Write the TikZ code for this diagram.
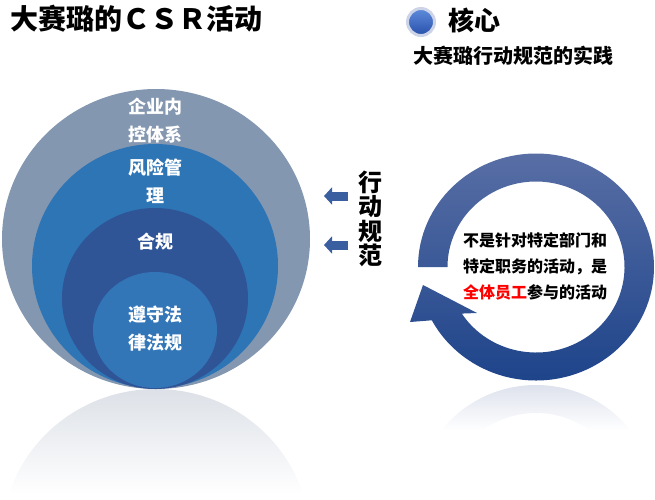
\documentclass[tikz,border=0pt]{standalone}
\usepackage{fontspec}
\setmainfont{Noto Sans CJK SC}
\usetikzlibrary{arrows.meta,calc}
\definecolor{outergrey}{RGB}{132,151,176}
\definecolor{riskblue}{RGB}{46,117,182}
\definecolor{compblue}{RGB}{47,85,151}
\definecolor{lawblue}{RGB}{50,118,184}
\definecolor{ringtop}{RGB}{88,110,165}
\definecolor{ringbot}{RGB}{30,68,138}
\definecolor{hintblue}{RGB}{58,95,160}
\definecolor{rimgrey}{RGB}{205,212,232}
\definecolor{dottop}{RGB}{95,140,220}
\definecolor{dotbot}{RGB}{40,80,170}
\definecolor{mirrorgrey}{RGB}{196,203,214}
\definecolor{mirrorblue}{RGB}{138,153,192}
\definecolor{keyred}{RGB}{255,0,0}
\pgfdeclareverticalshading{fadegrey}{100bp}{color(0bp)=(white); color(40bp)=(white); color(100bp)=(mirrorgrey)}
\pgfdeclareverticalshading{fadeblue}{100bp}{color(0bp)=(white); color(65bp)=(white); color(100bp)=(mirrorblue)}

\begin{document}
\begin{tikzpicture}[x=1pt, y=-1pt,
    title/.style={font=\bfseries\fontsize{28}{34}\selectfont, inner sep=0, anchor=west},
    sub/.style={font=\bfseries\fontsize{20}{24}\selectfont, inner sep=0, anchor=west},
    layer/.style={font=\bfseries\fontsize{18}{28}\selectfont, text=white, align=center, inner sep=0},
    note/.style={font=\bfseries\fontsize{16}{26}\selectfont, align=center, inner sep=0},
    dot/.style={circle, draw=rimgrey, line width=3, top color=dottop, bottom color=dotbot, minimum size=27, inner sep=0},
    hint/.style={-{Triangle[length=8pt, width=17pt]}, line width=9pt, hintblue}]
    \useasboundingbox (0,0) rectangle (655,499);

    %Reflections
    \shade[shading=fadegrey] (156,539) ++(180:154 and 150)
        arc[start angle=180, end angle=360, x radius=154, y radius=150] -- cycle;
    \shade[shading=fadeblue] (536,498.5) ++(-180:118 and 113.5)
        arc[start angle=-180, end angle=-512, x radius=118, y radius=113.5]
        -- (410,443.5) -- (423,480.5) -- (477,452.5)
        -- ($(536,498.5)+(-507:88.5 and 85.5)$)
        arc[start angle=-507, end angle=-180, x radius=88.5, y radius=85.5] -- cycle;

    %Circles
    \fill[outergrey] (156,239) ellipse [x radius=154, y radius=150];
    \fill[riskblue] (155,266) ellipse [x radius=123, y radius=122];
    \fill[compblue] (155,298.5) ellipse [x radius=93, y radius=90.5];
    \fill[lawblue] (155,330) ellipse [x radius=62, y radius=58];

    %Ring
    \shade[top color=ringtop, bottom color=ringbot] (536,267) ++(180:118 and 113.5)
        arc[start angle=180, end angle=512, x radius=118, y radius=113.5]
        -- (410,322) -- (423,285) -- (477,313)
        -- ($(536,267)+(507:88.5 and 85.5)$)
        arc[start angle=507, end angle=180, x radius=88.5, y radius=85.5] -- cycle;

    %Nodes
    \node[title] (head) at (10,19) {大赛璐的ＣＳＲ活动};
    \node[dot] (core) at (421,22) {};
    \node[title, font=\bfseries\fontsize{26}{30}\selectfont] (corelabel) at (448,20) {核心};
    \node[sub] (practice) at (413,56) {大赛璐行动规范的实践};
    \node[layer] (control) at (155,121) {企业内\\控体系};
    \node[layer] (risk) at (155,181) {风险管\\理};
    \node[layer] (comply) at (155,242) {合规};
    \node[layer] (law) at (155,329) {遵守法\\律法规};
    \node[note, font=\bfseries\fontsize{24}{24.5}\selectfont] (code) at (370,219) {行\\动\\规\\范};
    \node[note] (all) at (535,266) {不是针对特定部门和\\特定职务的活动，是\\{\color{keyred}全体员工}参与的活动};
    \coordinate (h1) at (348,196);
    \coordinate (t1) at (324,196);
    \coordinate (h2) at (348,245);
    \coordinate (t2) at (324,245);

    %Lines
    \draw[hint] (h1) -- (t1);
    \draw[hint] (h2) -- (t2);

\end{tikzpicture}
\end{document}
